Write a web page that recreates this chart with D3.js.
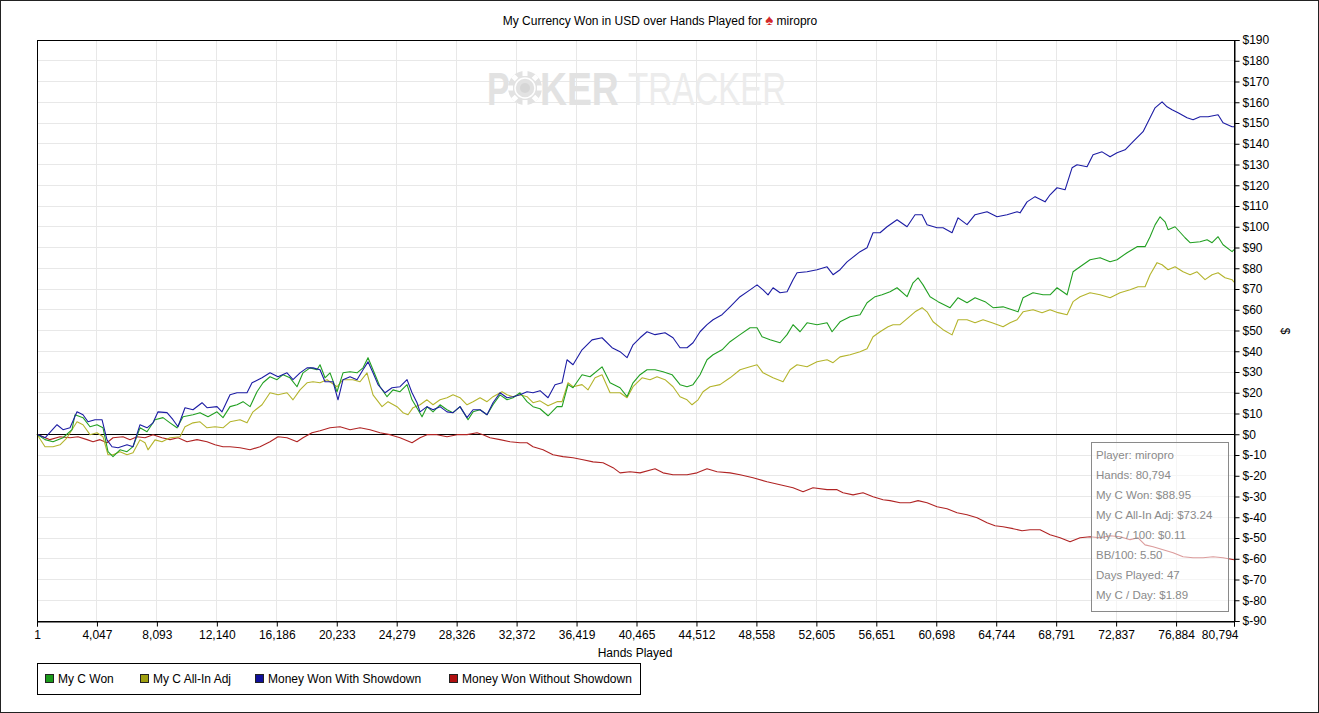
<!DOCTYPE html>
<html><head><meta charset="utf-8">
<script src="https://cdn.jsdelivr.net/npm/d3@7"></script>
<style>
html,body{margin:0;padding:0;background:#fff;}
svg{display:block;font-family:"Liberation Sans",Arial,sans-serif;}
</style></head>
<body><svg id="c" width="1319" height="713"></svg>
<script>
const title = "My Currency Won in USD over Hands Played for";
const player = "miropro";
const xTicks = [1,4047,8093,12140,16186,20233,24279,28326,32372,36419,40465,44512,48558,52605,56651,60698,64744,68791,72837,76884,80794];
const yTicks = [-90,-80,-70,-60,-50,-40,-30,-20,-10,0,10,20,30,40,50,60,70,80,90,100,110,120,130,140,150,160,170,180,190];
const seriesNames = ["My C Won","My C All-In Adj","Money Won With Showdown","Money Won Without Showdown"];
const seriesColors = ["#22a022","#b4b42c","#1c1ca4","#b02424"];
const legendColors = ["#1a9a1a","#a0a010","#10109a","#b01010"];
const infoLines = ["Player: miropro","Hands: 80,794","My C Won: $88.95","My C All-In Adj: $73.24","My C / 100: $0.11","BB/100: 5.50","Days Played: 47","My C / Day: $1.89"];

const wonHands = [1,541,1081,1756,2364,2566,3106,3579,4051,4456,4794,5131,5604,6076,6481,6954,7426,7966,8506,8979,9451,9856,10531,11004,11544,12151,12556,13029,13501,13906,14379,14851,15256,15729,16201,16606,17079,17551,17956,18429,18901,19104,19441,19779,20251,20656,21129,21601,22006,22344,22681,23154,23626,24031,24504,24976,25314,25719,25989,26326,26731,27204,27676,28081,28554,29094,29431,29904,30376,30781,31254,31726,32131,32604,33076,33481,33954,34494,35101,35439,35844,36181,36789,37329,38139,38679,39354,39826,40231,40704,41176,41716,42256,42864,43404,43876,44281,44754,45226,45631,46239,46779,47454,48129,48601,48939,49479,50154,50626,51031,51504,51976,52651,53326,53664,54204,54879,55554,56026,56566,57039,57579,58051,58726,59131,59469,59806,60279,60819,61629,62169,62776,63316,63991,64531,65206,65814,66219,66556,67231,67906,68379,68851,69526,69931,70404,71079,71754,72429,72901,73576,74251,74791,75129,75466,75804,76141,76344,76816,77491,77829,78504,78976,79314,79719,80056,80664,80794];
const wonValues = [0,-2.6,-3.6,-1.7,2.2,9.4,8.0,3.6,4.6,3.1,-8.4,-10.8,-7.5,-8.4,-6.0,3.1,1.2,7.0,8.0,5.5,3.1,8.4,9.4,10.4,8.4,10.8,8.0,13.3,14.2,15.7,13.3,20.5,24.8,27.7,26.3,28.7,27.2,22.9,29.6,32.0,31.1,33.5,27.2,29.6,20.5,29.6,30.1,29.6,32.0,36.9,31.1,22.9,18.1,21.4,20.5,23.9,16.6,11.8,8.4,13.3,10.8,14.2,11.8,10.4,13.3,7.0,10.8,11.8,9.4,14.2,19.0,16.6,17.6,20.0,15.7,13.3,12.3,8.9,13.3,13.3,23.9,22.4,28.7,27.7,32.5,24.8,22.4,18.1,24.8,28.7,31.1,31.1,30.1,28.7,23.9,22.9,23.9,28.7,35.9,38.3,40.7,44.6,48.0,51.3,51.3,47.0,45.5,44.1,48.0,52.8,49.4,53.7,52.8,53.7,49.4,54.2,56.6,57.6,63.4,66.3,67.2,68.7,70.6,66.3,73.0,75.4,72.0,66.3,63.9,61.0,65.8,63.4,65.8,63.9,61.0,61.4,60.0,59.0,65.8,68.2,67.2,67.2,70.6,67.2,78.3,80.7,84.1,85.1,83.1,84.1,87.5,90.4,90.4,95.2,100.9,104.8,102.4,98.6,100.0,94.7,92.3,92.8,93.7,92.3,95.2,91.3,88.0,88.95];

const adjHands = [1,541,1081,1554,2026,2364,2701,3106,3579,4051,4456,4794,5131,5604,6076,6481,6954,7291,7494,7966,8439,8979,9654,9991,10531,11004,11476,12016,12556,13029,13704,14176,14581,15189,15729,16269,16876,17281,17754,18226,18631,19104,19576,20251,20656,21331,21804,22276,22681,23289,23694,24301,24706,25044,25381,25854,26326,26731,27204,27676,28081,28554,29026,29431,29904,30376,30781,31389,31726,32131,32604,33076,33481,33954,34494,35101,35439,35844,36181,36789,37194,37666,38139,38679,39354,39826,40231,40839,41379,41851,42391,42931,43404,43876,44214,44619,44956,45429,46104,46779,47454,48129,48601,49006,49681,50356,50829,51301,51976,52651,53326,53731,54204,54879,55554,56026,56431,56904,57444,57781,58254,58794,59266,59739,60076,60481,61156,61764,62169,62776,63316,63856,64464,65206,65679,66151,66556,67231,67839,68379,68919,69526,69931,70404,71079,71754,72429,73104,73779,74319,74791,75129,75601,75939,76344,76816,77356,77829,78301,78841,79314,79719,80191,80664,80794];
const adjValues = [0,-6.0,-6.0,-5.1,-1.7,2.2,6.0,4.6,-0.2,0.7,-1.2,-9.9,-9.9,-8.4,-9.9,-8.9,-2.7,-4.1,-7.5,-2.7,-3.6,-1.7,-1.2,3.6,5.5,6.0,3.1,3.6,3.1,6.0,7.0,5.5,10.8,14.2,20.0,19.0,20.0,16.6,21.4,24.8,25.3,24.8,26.3,22.9,26.3,26.3,25.3,29.6,19.0,13.3,15.7,13.3,10.4,9.4,12.8,14.2,16.6,14.2,16.6,17.6,19.0,17.6,14.2,15.7,17.6,15.7,18.1,20.5,19.0,18.1,19.0,18.1,15.2,16.1,13.7,15.7,15.7,24.8,22.9,23.9,21.4,27.2,28.7,20.0,20.0,17.6,22.9,27.2,26.3,27.7,26.3,22.9,18.1,16.6,14.2,16.6,20.5,22.9,23.9,27.2,31.1,32.5,33.5,29.6,27.2,25.3,31.1,33.5,32.5,34.9,35.9,34.5,37.3,38.3,39.8,41.2,47.0,49.4,51.8,52.8,52.8,56.1,59.0,61.0,59.0,54.2,50.4,47.9,55.2,55.2,53.7,55.2,53.7,51.8,53.7,55.2,59.0,60.0,58.6,60.0,58.6,57.6,63.9,66.3,68.2,67.2,65.8,68.2,69.6,71.1,71.1,76.9,82.7,81.7,79.3,80.7,78.3,76.9,78.3,74.5,76.9,77.8,75.4,74.5,73.24];

const sdHands = [1,541,1351,1756,2229,2701,3106,3444,3916,4389,4726,5064,5469,6076,6481,6954,7426,7831,8169,8776,9181,9519,9991,10531,11139,11476,12151,12489,13029,13501,14176,14514,15189,15729,16269,16876,17281,17754,18226,18631,19104,19441,19981,20318,20656,21129,21601,22006,22344,22681,23019,23491,23964,24504,24976,25314,25651,25854,26326,26731,27204,27676,28081,28554,29026,29431,29904,30376,30781,31254,31726,32131,32604,33076,33481,33954,34494,34966,35439,35776,36181,36789,37464,38139,38814,39354,39826,40231,40704,41176,41716,42391,42931,43404,43876,44281,44754,45226,45631,46239,46779,47454,48129,48601,49006,49344,49681,50154,50626,51031,51301,51976,52651,53326,53731,54204,54676,55554,56026,56431,56904,57376,58051,58726,59266,59739,60076,60751,61156,61764,62169,62776,63316,64126,64801,65476,66151,66354,66826,67366,68041,68379,68851,69391,69864,70201,70876,71281,71889,72429,72901,73441,73981,74656,75129,75466,75939,76276,76614,77019,77626,78031,78504,79044,79719,80056,80664,80794];
const sdValues = [0,-1.7,4.6,2.2,3.1,10.8,9.4,6.0,7.0,7.0,-2.7,-6.0,-6.5,-5.1,-6.0,4.6,3.1,5.5,10.8,10.4,7.0,3.6,12.8,11.8,15.2,12.8,13.3,10.8,19.0,20.0,20.0,24.8,27.2,29.6,27.7,29.6,26.3,29.6,32.0,32.0,31.1,25.3,25.3,16.6,26.3,27.7,26.3,31.1,34.9,29.6,23.9,20.0,22.4,22.9,26.3,20.0,15.2,10.8,13.3,11.8,13.3,10.8,10.4,13.3,8.0,11.8,11.8,9.4,15.2,20.0,17.6,18.1,19.0,20.5,20.0,21.0,17.6,23.9,24.8,35.9,33.5,40.7,45.5,46.5,41.7,39.8,36.9,43.1,46.5,49.4,48.0,48.9,46.5,41.7,41.7,44.1,49.4,52.8,55.2,57.6,61.4,66.3,69.6,72.0,69.6,67.2,70.6,68.2,68.7,74.5,77.8,78.3,79.3,80.7,76.9,79.3,83.1,88.0,89.9,97.1,97.1,100.0,103.4,100.0,105.8,105.8,101.0,99.5,99.5,97.1,104.3,101.0,105.8,107.2,104.8,105.8,107.2,106.7,112.0,114.5,112.0,115.4,118.8,117.8,128.4,129.9,128.9,134.7,136.1,133.7,135.7,137.1,141.0,145.8,152.5,157.3,160.2,157.8,156.4,154.9,152.5,151.6,153.0,153.0,154.0,150.1,148.2,148.2];

const nsdHands = [1,879,1554,2229,2769,3376,3781,4254,4726,5131,5806,6279,6751,7291,7831,8439,8979,9519,10126,10801,11476,12016,12556,13029,13704,14379,15054,15729,16269,16876,17551,17956,18564,19104,19779,20454,21129,21804,22479,23154,23829,24504,25314,25854,26326,27001,27676,28351,29026,29701,30106,30579,31254,31929,32604,33076,33481,34156,34831,35506,36181,36856,37531,38206,38881,39354,40029,40704,41716,42256,42931,43876,44551,45226,45901,46779,47454,48331,49276,50154,51031,51706,52381,53326,54001,54406,55081,55756,56431,57106,57579,58254,58929,59469,60076,60751,61426,62101,62776,63451,64126,64666,65206,65881,66489,67029,67704,68379,69054,69729,70404,71079,71754,72429,73104,73779,74319,74791,75331,76006,76681,77356,78031,78706,79381,80056,80794];
const nsdValues = [0,-2.6,-1.2,-1.7,-1.2,-2.6,-3.6,-2.6,-4.1,-1.7,-1.2,-2.6,-1.2,-1.7,-0.2,-1.7,-2.6,-1.7,-3.6,-2.6,-3.6,-5.1,-6.0,-6.0,-6.5,-7.5,-6.0,-3.6,-1.2,-1.7,-3.6,-1.7,0.7,1.7,3.1,3.6,2.2,3.1,2.2,0.7,-0.2,-1.7,-4.1,-1.7,-0.2,-0.2,-1.2,-0.2,-0.2,0.7,-0.2,-1.7,-2.6,-3.6,-4.1,-4.1,-6.0,-7.5,-9.9,-10.8,-11.3,-12.3,-13.3,-13.7,-16.1,-18.6,-18.1,-18.6,-16.6,-18.6,-19.5,-19.5,-18.6,-16.6,-18.1,-18.6,-19.5,-21.0,-22.9,-24.3,-25.8,-27.7,-25.8,-26.7,-26.7,-28.2,-29.2,-28.2,-30.1,-31.6,-32.0,-33.0,-33.0,-32.0,-33.0,-34.9,-35.9,-37.8,-38.8,-40.2,-42.7,-44.1,-44.6,-45.5,-46.5,-46.0,-46.0,-48.4,-49.9,-51.8,-49.9,-49.4,-49.9,-48.9,-49.4,-50.8,-49.9,-53.3,-54.2,-55.7,-57.1,-59.0,-59.5,-59.5,-59.0,-59.5,-60.5];

const svg = d3.select("#c");
const L = 37, R = 1234, T = 40, B = 621;
const x = d3.scaleLinear().domain([1, 80794]).range([L, R]);
const y = d3.scaleLinear().domain([-90, 190]).range([B, T]);

// outer frame
svg.append("rect").attr("x",0.5).attr("y",0.5).attr("width",1318).attr("height",712)
  .attr("fill","none").attr("stroke","#222");

// title
const tt = svg.append("text").attr("x",660).attr("y",25).attr("text-anchor","middle")
  .attr("font-size",12).attr("fill","#000");
tt.append("tspan").text(title + " ");
tt.append("tspan").attr("fill","#d42a2a").attr("font-size",15).text("\u2660");
tt.append("tspan").text(" " + player);

// grid
const g = svg.append("g");
g.selectAll("line.vx").data(xTicks).join("line")
  .attr("x1",d=>x(d)).attr("x2",d=>x(d)).attr("y1",T).attr("y2",B)
  .attr("stroke","#e8e8e8").attr("shape-rendering","crispEdges");
g.selectAll("line.hy").data(yTicks).join("line")
  .attr("y1",d=>y(d)).attr("y2",d=>y(d)).attr("x1",L).attr("x2",R)
  .attr("stroke","#e8e8e8").attr("shape-rendering","crispEdges");

// watermark
const wmg = svg.append("g").attr("font-family","'Liberation Sans',Arial,sans-serif").attr("font-size",46);
wmg.append("text").attr("transform","translate(487,105) scale(0.74,1)")
  .attr("font-weight","bold").attr("fill","#e2e2e2").text("P");
const chip = wmg.append("g").attr("transform","translate(525,88)");
chip.append("circle").attr("r",17).attr("fill","#e2e2e2");
chip.selectAll("rect").data(d3.range(8)).join("rect")
  .attr("x",-2.5).attr("y",-17).attr("width",5).attr("height",5).attr("fill","#fff")
  .attr("transform",d=>`rotate(${d*45})`);
chip.append("circle").attr("r",10).attr("fill","none").attr("stroke","#fff").attr("stroke-width",1.5);
chip.append("circle").attr("r",5).attr("fill","#d6d6d6");
wmg.append("text").attr("transform","translate(540,105) scale(0.81,1)")
  .attr("font-weight","bold").attr("fill","#e2e2e2").text("KER");
wmg.append("text").attr("transform","translate(628,105) scale(0.72,1)")
  .attr("fill","#ececec").text("TRACKER");

// zero line
svg.append("line").attr("x1",L).attr("x2",R).attr("y1",Math.round(y(0))+0.5).attr("y2",Math.round(y(0))+0.5)
  .attr("stroke","#000");

// series
const series = [
  {h: wonHands, v: wonValues},
  {h: adjHands, v: adjValues},
  {h: sdHands, v: sdValues},
  {h: nsdHands, v: nsdValues}
];
const line = d3.line().x(d=>x(d[0])).y(d=>y(d[1]));
const order = [3,1,0,2];
order.forEach(i => {
  const s = series[i];
  svg.append("path").datum(s.h.map((h,k)=>[h, s.v[k]]))
    .attr("d", line).attr("fill","none").attr("stroke", seriesColors[i]).attr("stroke-width",1.1)
    .attr("stroke-linejoin","round");
});

// plot border
svg.append("rect").attr("x",L+0.5).attr("y",T+0.5).attr("width",R-L).attr("height",B-T)
  .attr("fill","none").attr("stroke","#000");

// axes
const yAxis = d3.axisRight(y).tickValues(yTicks).tickSize(5).tickPadding(3)
  .tickFormat(d => "$" + d);
const ya = svg.append("g").attr("transform",`translate(${R+0.5},0)`).call(yAxis);
const xAxis = d3.axisBottom(x).tickValues(xTicks).tickSize(5).tickPadding(4)
  .tickFormat(d3.format(","));
const xa = svg.append("g").attr("transform",`translate(0,${B+0.5})`).call(xAxis);
[ya, xa].forEach(a => {
  a.select(".domain").attr("stroke","#000");
  a.selectAll(".tick line").attr("stroke","#000");
  a.selectAll("text").attr("font-size",12).attr("fill","#000")
    .attr("font-family","'Liberation Sans',Arial,sans-serif");
});
xa.selectAll(".tick text").filter(d => d === 80794).attr("text-anchor","end").attr("dx",4);

svg.append("text").attr("x",635).attr("y",657).attr("text-anchor","middle")
  .attr("font-size",12).text("Hands Played");
svg.append("text").attr("transform","translate(1281,331) rotate(90)").attr("text-anchor","middle")
  .attr("font-size",12).text("$");

// info box
svg.append("rect").attr("x",1091.5).attr("y",442.5).attr("width",137).attr("height",169)
  .attr("fill","#fff").attr("fill-opacity",0.55).attr("stroke","#8a8a8a");
svg.append("g").selectAll("text").data(infoLines).join("text")
  .attr("x",1096).attr("y",(d,i)=>459 + i*20).attr("font-size",11.5).attr("fill","#8a8a8a")
  .text(d=>d);

// legend
svg.append("rect").attr("x",37.5).attr("y",663.5).attr("width",603).attr("height",31)
  .attr("fill","#fff").attr("stroke","#000");
const legX = [45, 140, 255, 449];
const lg = svg.append("g").selectAll("g").data(seriesNames).join("g")
  .attr("transform",(d,i)=>`translate(${legX[i]},674)`);
lg.append("rect").attr("x",0.5).attr("y",0.5).attr("width",8).attr("height",8)
  .attr("fill",(d,i)=>legendColors[i]).attr("stroke","#222");
lg.append("text").attr("x",13).attr("y",8.5).attr("font-size",12).text(d=>d);
</script></body></html>
